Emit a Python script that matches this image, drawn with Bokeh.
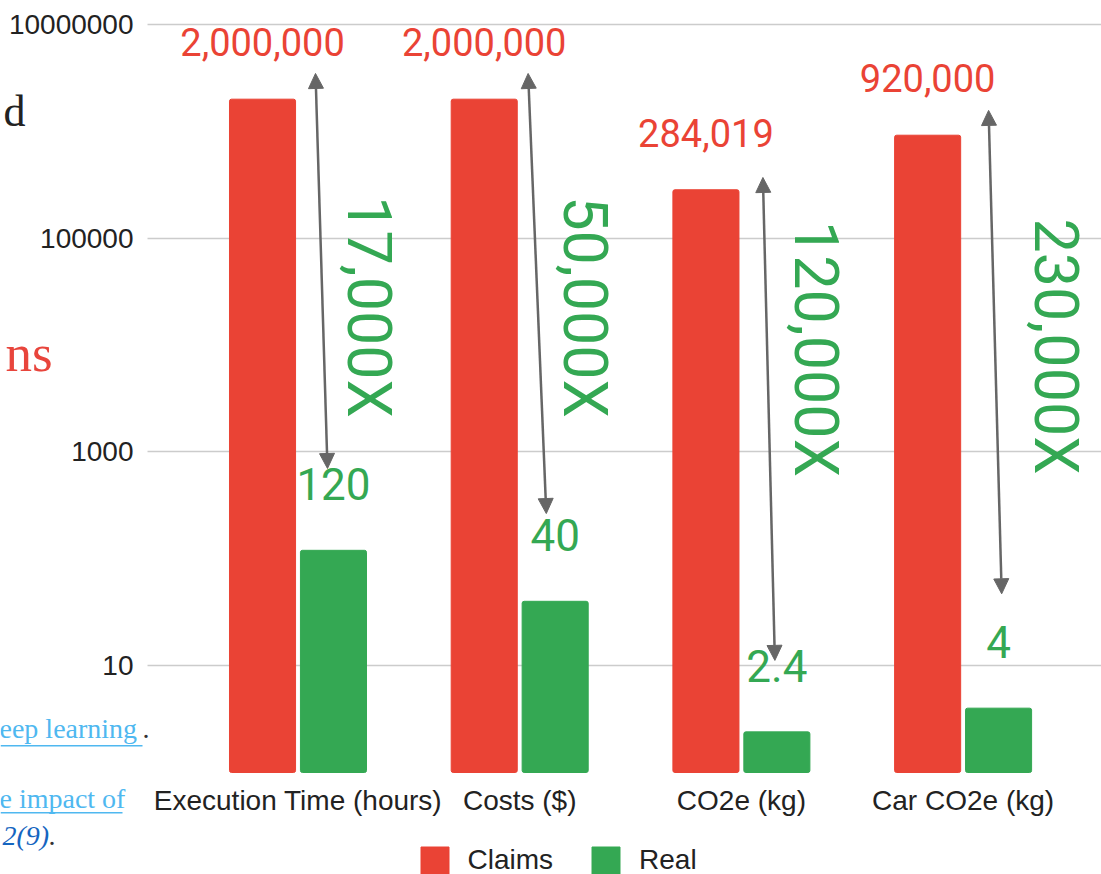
import math
from bokeh.plotting import figure
from bokeh.models import (Range1d, FixedTicker, NumeralTickFormatter, Legend, LegendItem,
                          Arrow, NormalHead, Label, ColumnDataSource, BoxAnnotation)
from bokeh.transform import dodge
from bokeh.core.properties import value
from bokeh.embed import file_html
from bokeh.resources import INLINE

# ---------------- data ----------------
categories = ["Execution Time (hours)", "Costs ($)", "CO2e (kg)", "Car CO2e (kg)"]
claims = [2000000, 2000000, 284019, 920000]
real = [120, 40, 2.4, 4]
claims_labels = ["2,000,000", "2,000,000", "284,019", "920,000"]
real_labels = ["120", "40", "2.4", "4"]
ratio_labels = ["17,000X", "50,000X", "120,000X", "230,000X"]
y_ticks = [10, 1000, 100000, 10000000]

# ---------------- annotation layout ----------------
arrow_dx_top = [0.079, 0.038, 0.097, 0.115]
arrow_dx_bot = [0.133, 0.120, 0.151, 0.174]
arrow_y_top = [3.48e6, 3.48e6, 3.7e5, 1.57e6]
arrow_y_bot = [700, 265, 11.2, 47]
ratio_dx = [0.320, 0.295, 0.338, 0.419]
ratio_y = [22700, 22700, 9200, 9700]

RED = "#EA4335"
GREEN = "#34A853"
GREY = "#666666"

W, H = 1101, 874
PXU = 221.7       # pixels per category unit
X0_PX = 297.5     # pixel position of first category centre
PXD = 106.86      # pixels per decade
BASE_PX = 772     # pixel row of value 1 (bar baseline)
AXIS_LEFT_PX = 147

def sx2x(px):
    return (px - X0_PX) / PXU

def sy2y(py):
    return 10 ** ((BASE_PX - py) / PXD)

idx = list(range(len(categories)))
src = ColumnDataSource(dict(
    idx=idx,
    claims=claims,
    real=real,
    claims_labels=claims_labels,
    real_labels=real_labels,
    ratio_labels=ratio_labels,
    claims_lbl_y=[c * 10 ** (57 / PXD) for c in claims],
    real_lbl_y=[r * 10 ** (66 / PXD) for r in real],
    ratio_x=[i + d for i, d in zip(idx, ratio_dx)],
    ratio_y=ratio_y,
))

p = figure(width=W, height=H, y_axis_type="log",
           x_range=Range1d(sx2x(0), sx2x(W)), y_range=Range1d(sy2y(H), sy2y(0)),
           output_backend="svg", toolbar_location=None,
           min_border_left=0, min_border_right=0, min_border_top=0, min_border_bottom=0)
p.outline_line_color = None
p.background_fill_color = "white"
p.border_fill_color = "white"

BW = 0.298
OFF = 0.160
r_claims = p.vbar(x=dodge("idx", -OFF), top="claims", bottom=1, width=BW, source=src,
                  fill_color=RED, line_color=RED, border_radius=2)
r_real = p.vbar(x=dodge("idx", OFF), top="real", bottom=1, width=BW, source=src,
                fill_color=GREEN, line_color=GREEN, border_radius=2)

# value labels
p.text(x=dodge("idx", -OFF), y="claims_lbl_y", text="claims_labels", source=src,
       text_font=value("Roboto"), text_font_size="38px", text_color=RED,
       text_align="center", text_baseline="alphabetic")
p.text(x=dodge("idx", OFF), y="real_lbl_y", text="real_labels", source=src,
       text_font=value("Roboto"), text_font_size="44px", text_color=GREEN,
       text_align="center", text_baseline="alphabetic")
p.text(x="ratio_x", y="ratio_y", text="ratio_labels", source=src, angle=-math.pi / 2,
       text_font=value("Roboto"), text_font_size="61px", text_color=GREEN,
       text_align="center", text_baseline="alphabetic")

# arrows
arrow_src = ColumnDataSource(dict(
    xs=[i + d for i, d in zip(idx, arrow_dx_top)],
    ys=arrow_y_top,
    xe=[i + d for i, d in zip(idx, arrow_dx_bot)],
    ye=arrow_y_bot,
))
p.add_layout(Arrow(x_start="xs", y_start="ys", x_end="xe", y_end="ye", source=arrow_src,
                   line_color=GREY, line_width=2.5,
                   start=NormalHead(size=15, fill_color=GREY, line_color=GREY),
                   end=NormalHead(size=15, fill_color=GREY, line_color=GREY)))

# axes (drawn at fixed locations so the whole canvas is the plotting frame)
p.xaxis.fixed_location = 1
p.xaxis.ticker = FixedTicker(ticks=idx)
p.xaxis.major_label_overrides = {i: c for i, c in zip(idx, categories)}
p.xaxis.major_label_text_font = "Liberation Sans"
p.xaxis.major_label_text_font_size = "28px"
p.xaxis.major_label_text_color = "#222222"
p.xaxis.major_label_standoff = 12
p.xaxis.axis_line_color = None
p.xaxis.major_tick_line_color = None
p.xaxis.minor_tick_line_color = None
p.xaxis.major_tick_out = 0

p.yaxis.fixed_location = sx2x(AXIS_LEFT_PX)
p.yaxis.ticker = FixedTicker(ticks=y_ticks)
p.yaxis.formatter = NumeralTickFormatter(format="0")
p.yaxis.major_label_text_font = "Liberation Sans"
p.yaxis.major_label_text_font_size = "28px"
p.yaxis.major_label_text_color = "#222222"
p.yaxis.major_label_standoff = 14
p.yaxis.axis_line_color = None
p.yaxis.major_tick_line_color = None
p.yaxis.minor_tick_line_color = None
p.yaxis.major_tick_out = 0

p.xgrid.visible = False
p.ygrid.ticker = FixedTicker(ticks=y_ticks)
p.ygrid.cross_bounds = (sx2x(AXIS_LEFT_PX), sx2x(W))
p.ygrid.grid_line_color = "#cccccc"
p.ygrid.grid_line_width = 1.5

# legend
legend = Legend(items=[LegendItem(label="Claims", renderers=[r_claims]),
                       LegendItem(label="Real", renderers=[r_real])],
                orientation="horizontal", location=(416.5, -3.5),
                label_text_font="Liberation Sans", label_text_font_size="28px",
                label_text_color="#222222", label_standoff=16, spacing=35,
                glyph_width=35, glyph_height=35, label_height=35,
                padding=0, margin=0, border_line_color=None,
                background_fill_alpha=0)
p.add_layout(legend, "center")

# fragments of the surrounding slide
def frag(text, cx, base, font, size, color, style="normal"):
    p.add_layout(Label(x=sx2x(cx), y=sy2y(base - 0.32 * size),
                       text=text, text_font=font, text_font_size=f"{size}px", text_color=color,
                       text_font_style=style, text_baseline="alphabetic", text_align="left"))

frag("d", 3, 125, "Liberation Serif", 44, "#222222")
frag("ns", 5, 369, "Liberation Serif", 53, "#E8453C")
frag("eep learning", -1, 737, "Liberation Serif", 28, "#4FB8F0")
frag(".", 142, 737, "Liberation Serif", 28, "#333333")
frag("e impact of", -1, 807, "Liberation Serif", 28, "#4FB8F0")
frag("2(9)", 2, 844, "Liberation Serif", 28, "#1565C0", "italic")
frag(".", 48, 844, "Liberation Serif", 28, "#333333")

for (x0, x1, yy) in [(0, 142, 745), (0, 122, 812)]:
    p.add_layout(BoxAnnotation(left=sx2x(x0), right=sx2x(x1),
                               bottom=sy2y(yy + 1), top=sy2y(yy - 0.5),
                               fill_color="#4FB8F0", fill_alpha=1, line_color=None))

open("out.html", "w").write(file_html(p, INLINE))
